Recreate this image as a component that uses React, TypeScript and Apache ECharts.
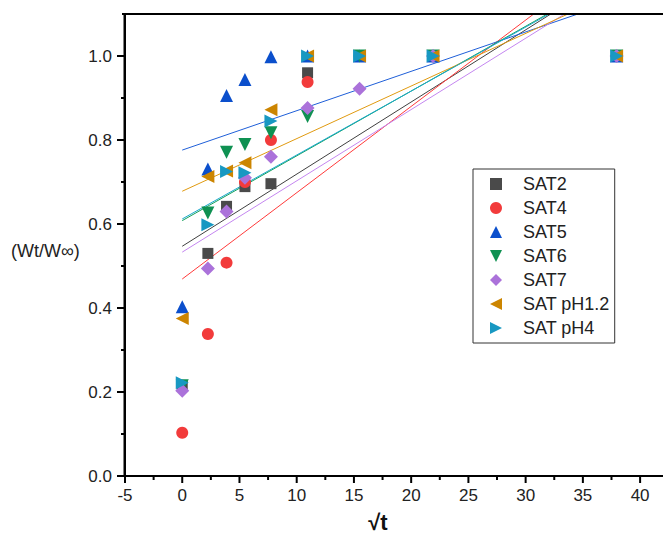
import React, { useEffect, useRef } from "react";
import * as echarts from "echarts";

// square-root-of-time sampling points
const sqrtT = [0, 2.24, 3.87, 5.48, 7.75, 10.95, 15.49, 21.91, 37.95];

const seriesNames = ["SAT2", "SAT4", "SAT5", "SAT6", "SAT7", "SAT pH1.2", "SAT pH4"];

const sat2 = [0.215, 0.53, 0.642, 0.689, 0.696, 0.96, 1.0, 1.0, 1.0];
const sat4 = [0.103, 0.338, 0.508, 0.7, 0.8, 0.938, 1.0, 1.0, 1.0];
const sat5 = [0.403, 0.731, 0.906, 0.944, 0.998, 1.0, 1.0, 1.0, 1.0];
const sat6 = [0.215, 0.626, 0.771, 0.789, 0.817, 0.856, 1.0, 1.0, 1.0];
const sat7 = [0.203, 0.494, 0.63, 0.71, 0.76, 0.876, 0.922, 1.0, 1.0];
const satPh12 = [0.375, 0.713, 0.726, 0.746, 0.872, 1.0, 1.0, 1.0, 1.0];
const satPh4 = [0.222, 0.598, 0.725, 0.722, 0.845, 1.0, 1.0, 1.0, 1.0];

// linear fit lines: value at sqrt(t)=0 and at sqrt(t)=40
const fitAt0 = [0.547, 0.469, 0.776, 0.608, 0.533, 0.678, 0.612];
const fitAt40 = [1.234, 1.291, 1.151, 1.225, 1.212, 1.179, 1.221];
const fitX = [0, 40];

// tick positions
const xMajorTicks = [-5, 0, 5, 10, 15, 20, 25, 30, 35, 40];
const xMinorTicks = [-2.5, 2.5, 7.5, 12.5, 17.5, 22.5, 27.5, 32.5, 37.5];
const yMajorTicks = [0, 0.2, 0.4, 0.6, 0.8, 1.0];
const yMinorTicks = [0.1, 0.3, 0.5, 0.7, 0.9];

const X_MIN = -5;
const X_MAX = 42;
const Y_MIN = 0;
const Y_MAX = 1.1;

const markerColors = ["#4a4a4a", "#f23b3b", "#0b4fcc", "#0f9152", "#ab72da", "#cc8500", "#1898c2"];
const lineColors = ["#404040", "#ff3a3a", "#1f5fd8", "#12a05a", "#c486f0", "#e09a10", "#1aa8cc"];
const symbols = ["rect", "circle", "triangle", "triangle", "diamond", "triangle", "triangle"];
const rotations = [0, 0, 0, 180, 0, 90, -90];
const sizes = [11, 12, 13, 13, 14, 13, 13];

// legend glyphs (rotated triangles drawn as paths)
const legendIcons = [
  "rect",
  "circle",
  "triangle",
  "path://M0,0 L10,0 L5,10 Z",
  "diamond",
  "path://M10,0 L10,10 L0,5 Z",
  "path://M0,0 L10,5 L0,10 Z",
];

const FONT = "Liberation Sans, Arial, sans-serif";

export default function App() {
  const ref = useRef<HTMLDivElement>(null);

  useEffect(() => {
    if (!ref.current) return;
    const chart = echarts.init(ref.current, undefined, { renderer: "svg" });
    const values = [sat2, sat4, sat5, sat6, sat7, satPh12, satPh4];

    const fitSeries = seriesNames.map((n, i) => ({
      name: n + " fit",
      type: "line",
      data: fitX.map((x, k) => [x, k === 0 ? fitAt0[i] : fitAt40[i]]),
      showSymbol: false,
      symbol: "none",
      clip: true,
      lineStyle: { color: lineColors[i], width: 1 },
      z: 1,
      silent: true,
    }));

    const scatterSeries = seriesNames.map((n, i) => ({
      name: n,
      type: "scatter",
      data: sqrtT.map((x, k) => [x, values[i][k]]),
      symbol: symbols[i],
      symbolRotate: rotations[i],
      symbolSize: sizes[i],
      itemStyle: { color: markerColors[i], opacity: 1 },
      z: 2 + i,
    }));

    const texts = [
      {
        id: "yname",
        type: "text",
        left: 11,
        top: 242,
        style: { text: "(Wt/W\u221E)", fontSize: 18, fontFamily: FONT, fill: "#222" },
      },
      {
        id: "xname",
        type: "text",
        x: 378,
        y: 511,
        style: {
          text: "\u221At",
          fontSize: 22,
          fontWeight: "bold",
          fontFamily: FONT,
          fill: "#111",
          align: "center",
          verticalAlign: "top",
        },
      },
    ];

    chart.setOption({
      animation: false,
      grid: { left: 125, right: 0, top: 14, bottom: 58 },
      xAxis: {
        type: "value",
        min: X_MIN,
        max: X_MAX,
        interval: 5,
        position: "bottom",
        axisLine: { show: false, onZero: false },
        axisTick: { show: false },
        axisLabel: {
          formatter: (v: number) => (v > 41 ? "" : String(v)),
          color: "#222",
          fontSize: 17,
          fontFamily: FONT,
          margin: 11,
          showMaxLabel: false,
        },
        splitLine: { show: false },
      },
      yAxis: {
        type: "value",
        min: Y_MIN,
        max: Y_MAX,
        interval: 0.2,
        position: "left",
        axisLine: { show: false, onZero: false },
        axisTick: { show: false },
        axisLabel: {
          formatter: (v: number) => (v > 1.05 ? "" : v.toFixed(1)),
          color: "#222",
          fontSize: 17,
          fontFamily: FONT,
          margin: 13,
          showMaxLabel: false,
        },
        splitLine: { show: false },
      },
      legend: {
        data: seriesNames.map((n, i) => ({ name: n, icon: legendIcons[i] })),
        orient: "vertical",
        left: 473,
        top: 169,
        padding: [6, 5, 6, 17],
        itemWidth: 12,
        itemHeight: 12,
        itemGap: 6,
        borderColor: "#333",
        borderWidth: 1,
        borderRadius: 0,
        backgroundColor: "#fff",
        textStyle: {
          color: "#222",
          fontSize: 18,
          fontFamily: FONT,
          lineHeight: 18,
          padding: [0, 0, 0, 16],
        },
      },
      graphic: texts,
      series: [...fitSeries, ...scatterSeries],
    });

    // frame and outward ticks, positioned through the axis scales
    const px = (x: number, y: number) =>
      chart.convertToPixel({ xAxisIndex: 0, yAxisIndex: 0 }, [x, y]) as number[];
    const bl = px(X_MIN, Y_MIN);
    const tl = px(X_MIN, Y_MAX);
    const br = px(X_MAX, Y_MIN);
    const bar = (id: string, x: number, y: number, w: number, h: number) => ({
      id,
      type: "rect",
      z: 50,
      silent: true,
      shape: { x, y, width: w, height: h },
      style: { fill: "#000" },
    });
    const frame: any[] = [
      bar("frame-left", bl[0] - 1.5, tl[1] - 1, 2.5, bl[1] - tl[1] + 2),
      bar("frame-bottom", bl[0] - 1.5, bl[1] - 1, br[0] - bl[0] + 2, 2),
      bar("frame-top", tl[0] - 3, tl[1] - 1, br[0] - tl[0] + 4, 2),
    ];
    xMajorTicks.forEach((v, i) => {
      const p = px(v, Y_MIN);
      frame.push(bar("xM" + i, p[0] - 1, p[1], 2, 7));
    });
    xMinorTicks.forEach((v, i) => {
      const p = px(v, Y_MIN);
      frame.push(bar("xm" + i, p[0] - 1, p[1], 2, 4));
    });
    yMajorTicks.forEach((v, i) => {
      const p = px(X_MIN, v);
      frame.push(bar("yM" + i, p[0] - 8, p[1] - 1, 8, 2));
    });
    yMinorTicks.forEach((v, i) => {
      const p = px(X_MIN, v);
      frame.push(bar("ym" + i, p[0] - 4, p[1] - 1, 4, 2));
    });
    chart.setOption({ graphic: [...texts, ...frame] });

    return () => chart.dispose();
  }, []);

  return <div ref={ref} style={{ width: 663, height: 534, position: "absolute", left: 0, top: 0 }} />;
}
